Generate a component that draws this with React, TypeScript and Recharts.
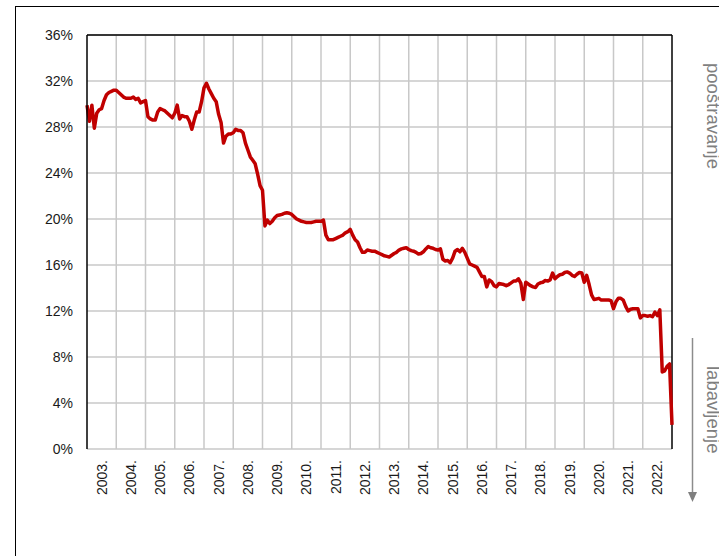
import React from 'react';
import { LineChart, Line, XAxis, YAxis, CartesianGrid, ReferenceLine } from 'recharts';

// Monthly values (Jan 2003 .. Jan 2023), in %
const rates: number[] = [
  29.9, 28.5, 29.9, 27.9, 29.2, 29.5, 29.6, 30.3, 30.8, 31.0, 31.1, 31.2,
  31.2, 31.0, 30.8, 30.6, 30.5, 30.5, 30.5, 30.6, 30.4, 30.5, 30.1, 30.2,
  30.3, 28.9, 28.7, 28.6, 28.6, 29.3, 29.6, 29.5, 29.4, 29.2, 29.0, 28.8,
  29.2, 29.9, 28.7, 29.0, 28.9, 28.9, 28.5, 27.8, 28.6, 29.3, 29.3, 30.2,
  31.4, 31.8, 31.3, 30.9, 30.5, 30.2, 29.1, 28.4, 26.6, 27.2, 27.4, 27.4,
  27.5, 27.8, 27.7, 27.7, 27.5, 26.6, 26.0, 25.4, 25.1, 24.8, 23.9, 22.9,
  22.5, 19.4, 19.9, 19.6, 19.8, 20.1, 20.3, 20.35, 20.4, 20.5, 20.55, 20.5,
  20.4, 20.2, 20.0, 19.9, 19.8, 19.75, 19.7, 19.7, 19.7, 19.75, 19.8, 19.8,
  19.8, 19.9, 18.6, 18.2, 18.2, 18.2, 18.3, 18.4, 18.5, 18.6, 18.8, 18.9,
  19.1, 18.6, 18.2, 18.0, 17.5, 17.1, 17.1, 17.3, 17.25, 17.2, 17.2, 17.1,
  17.0, 16.9, 16.8, 16.75, 16.7, 16.85, 17.0, 17.1, 17.3, 17.4, 17.45, 17.5,
  17.35, 17.25, 17.2, 17.1, 16.95, 17.0, 17.15, 17.4, 17.6, 17.5, 17.45, 17.35,
  17.3, 17.4, 16.5, 16.35, 16.4, 16.2, 16.6, 17.2, 17.35, 17.15, 17.45, 17.1,
  16.6, 16.1, 16.0, 15.9, 15.8, 15.4, 15.0, 15.0, 14.1, 14.7, 14.55, 14.2,
  14.1, 14.4, 14.35, 14.3, 14.2, 14.3, 14.45, 14.6, 14.6, 14.8, 14.4, 13.0,
  14.5, 14.35, 14.2, 14.1, 14.05, 14.35, 14.45, 14.5, 14.65, 14.6, 14.7, 15.3,
  14.8, 15.0, 15.15, 15.2, 15.35, 15.4, 15.3, 15.1, 15.0, 15.2, 15.35, 15.3,
  14.5, 15.1, 14.3, 13.4, 13.0, 13.05, 13.1, 12.95, 12.95, 12.95, 12.95, 12.9,
  12.2, 12.8, 13.1, 13.1, 12.95, 12.4, 12.0, 12.15, 12.2, 12.2, 12.2, 11.4,
  11.6, 11.6, 11.55, 11.6, 11.5, 11.9, 11.6, 12.1, 6.7, 6.8, 7.2, 7.4,
  2.1,
];

const yearLabels: string[] = [
  '2003.', '2004.', '2005.', '2006.', '2007.', '2008.', '2009.', '2010.', '2011.', '2012.',
  '2013.', '2014.', '2015.', '2016.', '2017.', '2018.', '2019.', '2020.', '2021.', '2022.',
];

const yTicks: number[] = [0, 4, 8, 12, 16, 20, 24, 28, 32, 36];

const data = rates.map((v, i) => ({ m: i, v }));
const labelTicks = yearLabels.map((_, i) => i * 12 + 6);
const yearBounds = yearLabels.slice(1).map((_, i) => (i + 1) * 12);

const FONT = '"Liberation Sans", Arial, sans-serif';

const XTick = (props: any) => {
  const { x, y, payload } = props;
  const idx = Math.round((payload.value - 6) / 12);
  const tx = x + 5;
  const ty = y + 11;
  return (
    <text
      x={tx}
      y={ty}
      transform={`rotate(-90, ${tx}, ${ty})`}
      textAnchor="end"
      fontSize={14}
      fontFamily={FONT}
      fill="#1a1a1a"
    >
      {yearLabels[idx]}
    </text>
  );
};

export default function App() {
  return (
    <div style={{ position: 'absolute', left: 0, top: 0, width: 719, height: 556, overflow: 'hidden', background: '#fff' }}>
      <div
        style={{
          position: 'absolute',
          left: 15,
          top: 6,
          width: 900,
          height: 900,
          border: '1.5px solid #000',
          boxSizing: 'border-box',
        }}
      />
      <div style={{ position: 'absolute', left: 0, top: 0 }}>
        <LineChart width={719} height={556} data={data} margin={{ top: 35, right: 47, bottom: 0, left: 0 }}>
          <CartesianGrid vertical={false} stroke="#c8c8c8" strokeWidth={1.5} />
          {yearBounds.map((b) => (
            <ReferenceLine key={b} x={b} stroke="#c8c8c8" strokeWidth={1.5} ifOverflow="visible" />
          ))}
          <XAxis
            dataKey="m"
            type="number"
            domain={[0, 240]}
            ticks={labelTicks}
            interval={0}
            axisLine={false}
            tickLine={false}
            tickSize={0}
            tickMargin={0}
            height={107}
            tick={<XTick />}
          />
          <YAxis
            type="number"
            domain={[0, 36]}
            ticks={yTicks}
            interval={0}
            width={87}
            axisLine={{ stroke: '#000', strokeWidth: 1.5 }}
            tickLine={false}
            tickSize={0}
            tickMargin={14}
            tickFormatter={(v: number) => `${v}%`}
            tick={{ fontSize: 14, fontFamily: FONT, fill: '#1a1a1a' }}
          />
          <ReferenceLine y={36} stroke="#000" strokeWidth={1.5} ifOverflow="visible" />
          <ReferenceLine x={240} stroke="#000" strokeWidth={1.5} ifOverflow="visible" />
          <Line
            type="linear"
            dataKey="v"
            stroke="#c00000"
            strokeWidth={3.5}
            dot={false}
            isAnimationActive={false}
            strokeLinejoin="round"
          />
        </LineChart>
      </div>
      <svg width={719} height={556} style={{ position: 'absolute', left: 0, top: 0, pointerEvents: 'none' }}>
        <text
          x={707}
          y={63}
          transform="rotate(90, 707, 63)"
          fontSize={18.5}
          fontFamily={FONT}
          fill="#7f7f7f"
          textAnchor="start"
        >
          pooštravanje
        </text>
        <text
          x={707}
          y={366}
          transform="rotate(90, 707, 366)"
          fontSize={18.5}
          fontFamily={FONT}
          fill="#7f7f7f"
          textAnchor="start"
        >
          labavljenje
        </text>
        <line x1={692.5} y1={338} x2={692.5} y2={493} stroke="#8c8c8c" strokeWidth={1.5} />
        <polygon points="688,492 697,492 692.5,502" fill="#7f7f7f" />
      </svg>
    </div>
  );
}
